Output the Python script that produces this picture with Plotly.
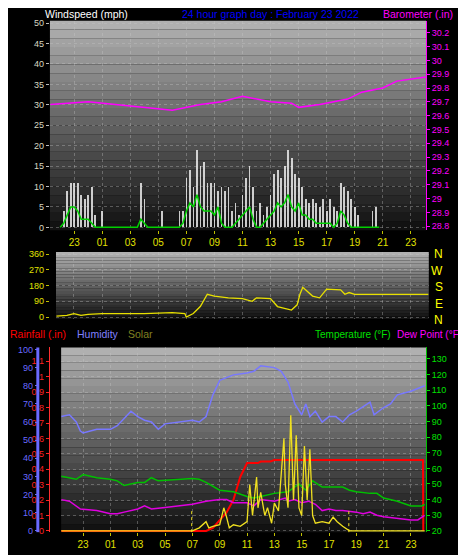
import plotly.graph_objects as go

# time in hours since midnight of previous day (23 -> 23:00 prev day, 47 -> 23:00 today)
hour_ticks = [23, 25, 27, 29, 31, 33, 35, 37, 39, 41, 43, 45, 47]
hour_labels = ['23', '01', '03', '05', '07', '09', '11', '13', '15', '17', '19', '21', '23']

# wind, 15 minute steps starting 22:00 prev day
wind_start = 22.0
gust = [0, 4, 9, 11, 11, 11, 8, 7, 8, 10, 3, 0, 4, 0, 0, 0,
        0, 0, 0, 0, 0, 0, 0, 11, 7, 0, 0, 0, 0, 4, 0, 0,
        0, 0, 4, 4, 12, 14, 10, 19, 15, 16, 11, 11, 11, 9, 10, 9,
        10, 4, 6, 3, 8, 12, 15, 10, 4, 6, 3, 5, 8, 13, 14, 12,
        15, 19, 17, 13, 12, 10, 7, 6, 7, 6, 5, 7, 4, 7, 5, 4,
        11, 10, 9, 7, 5, 3, 0, 0, 0, 4, 5, 0]
avg_wind = [0, 1, 3, 5, 5, 4, 2, 2, 2, 1, 0, 0, 0, 0, 0, 0,
            0, 0, 0, 0, 0, 0, 0, 2, 1, 0, 0, 0, 0, 0, 0, 0,
            0, 0, 0, 1, 4, 6, 5, 8, 5, 4, 4, 4, 3, 5, 1, 0,
            0, 0, 1, 2, 3, 4, 5, 2, 0, 0, 1, 2, 3, 4, 6, 5,
            6, 8, 5, 4, 6, 3, 3, 2, 2, 1, 1, 1, 1, 1, 0, 1,
            4, 3, 1, 0, 0, 0, 0, 0, 0, 0, 0, 0]
wind_t = [wind_start + 0.25 * i for i in range(len(gust))]

baro_t = [21.3, 24, 27, 29, 30, 32, 33.5, 35, 37, 38.5, 39, 40.5, 41.5, 42.5, 43.5, 45, 46, 47.5, 48.05]
baro = [29.68, 29.70, 29.67, 29.65, 29.64, 29.68, 29.70, 29.74, 29.70, 29.69, 29.66, 29.68, 29.70, 29.72, 29.77, 29.80, 29.85, 29.87, 29.88]

dir_t = [21.75, 22.5, 23, 23.5, 24, 25, 28, 30, 30.9, 31.0, 31.5, 32, 32.5, 33, 34, 35, 35.7, 36, 37, 37.5, 38, 38.5, 38.9, 39.1, 39.3, 40, 40.5, 41, 42, 42.3, 42.6, 43, 48.25]
wind_dir = [5, 10, 20, 10, 15, 20, 20, 25, 20, 0, 20, 60, 130, 120, 110, 105, 90, 110, 105, 60, 50, 40, 70, 130, 170, 120, 110, 160, 155, 130, 140, 130, 130]

hum_t = [21.4, 22, 22.5, 22.8, 23, 24, 25, 25.5, 26, 26.5, 27, 27.5, 28, 28.5, 29, 30, 31, 31.5, 32, 32.5, 33, 34, 35, 35.5, 36, 37, 37.5, 38, 38.5, 39, 39.3, 39.6, 40, 40.5, 41, 41.5, 42, 42.5, 43, 44, 44.3, 45, 45.5, 46, 47, 48]
humidity = [63, 64, 60, 55, 54, 56, 56, 58, 62, 66, 63, 61, 60, 56, 59, 60, 61, 60, 63, 75, 83, 86, 87, 88, 91, 90, 88, 82, 70, 64, 70, 63, 66, 60, 63, 63, 60, 64, 66, 71, 64, 68, 70, 75, 77, 80]

temp_t = [21.4, 22.5, 23, 24, 25, 25.5, 26, 27, 27.5, 28, 28.5, 30, 31, 31.5, 32, 33, 34, 35, 35.5, 36, 37, 38, 38.8, 39.3, 39.8, 40.5, 41, 42, 42.5, 43, 44, 44.5, 45, 46, 47, 47.8, 48]
temperature = [55, 53, 56, 54, 53, 52, 49, 51, 51, 54, 52, 53, 53.5, 53, 51, 46, 45, 42, 41, 42, 44, 45, 50, 46, 52, 48, 48, 48, 46, 45, 44, 44, 41, 39, 36, 36, 37]

dew_t = [21.4, 22, 22.8, 24, 25, 25.5, 26, 27, 27.5, 28, 29, 30, 31, 32, 33, 33.5, 34, 35, 35.5, 36, 37, 37.8, 38, 38.5, 39, 39.5, 40, 40.5, 41, 41.5, 42, 43, 43.5, 44, 44.5, 45, 46, 47, 47.5, 48]
dew_point = [40, 39, 34, 33, 31, 31, 32, 34, 36, 34, 35, 36, 37, 39, 40, 40, 38, 38, 36, 40, 39, 41, 39, 40, 38, 39, 37, 33, 34, 33, 33, 32, 31, 32, 30, 29, 28, 27, 27, 30]

rain_t = [21.4, 32.0, 32.5, 33.0, 33.5, 34.0, 34.5, 35.0, 35.8, 36.0, 36.7, 37.0, 47.88, 47.9]
rainfall = [0, 0, 0.02, 0.07, 0.12, 0.2, 0.35, 0.44, 0.44, 0.45, 0.45, 0.46, 0.46, 0]

solar_t = [21.4, 31.0, 31.5, 32, 32.2, 32.5, 33, 33.3, 33.5, 33.7, 34, 34.5, 35, 35.2, 35.4, 35.5, 35.7, 35.8, 36, 36.3, 36.5, 36.8, 37, 37.3, 37.5, 37.7, 37.8, 38, 38.2, 38.4, 38.6, 38.8, 39, 39.2, 39.4, 39.6, 39.8, 40, 40.5, 41, 41.3, 41.6, 42, 42.5, 48]
solar = [0, 0, 20, 60, 20, 30, 40, 150, 90, 20, 40, 30, 60, 300, 100, 200, 350, 150, 250, 100, 150, 50, 180, 130, 400, 600, 300, 150, 750, 200, 620, 150, 100, 550, 200, 530, 100, 50, 60, 50, 90, 60, 30, 0, 0]
sun_times = [30.95, 42.45]

FONT = 'Liberation Sans, Arial, sans-serif'
GRID = dict(showgrid=True, gridcolor='rgba(200,200,200,0.35)', griddash='dot', gridwidth=1)

fig = go.Figure()

# top panel
fig.add_trace(go.Bar(x=wind_t, y=gust, width=0.12, marker=dict(color='rgba(235,235,235,0.85)', line_width=0),
                     xaxis='x', yaxis='y'))
fig.add_trace(go.Scatter(x=wind_t, y=avg_wind, mode='lines', line=dict(color='#00d000', width=1.5),
                         xaxis='x', yaxis='y'))
fig.add_trace(go.Scatter(x=baro_t, y=baro, mode='lines', line=dict(color='#ff00ff', width=1.5),
                         xaxis='x', yaxis='y2'))
# middle panel
fig.add_trace(go.Scatter(x=dir_t, y=wind_dir, mode='lines', line=dict(color='#e8e000', width=1.3),
                         xaxis='x2', yaxis='y3'))
# bottom panel
fig.add_trace(go.Scatter(x=hum_t, y=humidity, mode='lines', line=dict(color='#7878ff', width=1.5),
                         xaxis='x3', yaxis='y5'))
fig.add_trace(go.Scatter(x=temp_t, y=temperature, mode='lines', line=dict(color='#00c000', width=1.5),
                         xaxis='x3', yaxis='y6'))
fig.add_trace(go.Scatter(x=dew_t, y=dew_point, mode='lines', line=dict(color='#e000e0', width=1.5),
                         xaxis='x3', yaxis='y6'))
fig.add_trace(go.Scatter(x=solar_t, y=solar, mode='lines', line=dict(color='#f0e020', width=1.3),
                         xaxis='x3', yaxis='y7'))
fig.add_trace(go.Scatter(x=rain_t, y=rainfall, mode='lines', line=dict(color='#ff0000', width=2),
                         xaxis='x3', yaxis='y4'))

shapes = []
# gray gradient backgrounds
for xr, yr in [('x', 'y'), ('x2', 'y3'), ('x3', 'y4')]:
    n = 24
    for i in range(n):
        g = int(15 + 165 * (i + 0.5) / n)
        shapes.append(dict(type='rect', xref=xr + ' domain', yref=yr + ' domain', x0=0, x1=1,
                           y0=i / n, y1=(i + 1) / n, fillcolor=f'rgb({g},{g},{g})', line_width=0, layer='below'))
for t in sun_times:
    shapes.append(dict(type='line', xref='x3', yref='y4 domain', x0=t, x1=t, y0=0, y1=0.12,
                       line=dict(color='#f0e020', width=1, dash='dot')))
shapes.append(dict(type='line', xref='paper', yref='y5 domain', x0=0.064, x1=0.064, y0=0, y1=1,
                   line=dict(color='#6a6aff', width=3)))

tick_x = dict(tickmode='array', tickvals=hour_ticks, ticktext=hour_labels, ticks='outside',
              tickcolor='#c0c000', ticklen=3, tickfont=dict(color='#e0e000', size=10), zeroline=False, **GRID)
fig.update_layout(
    width=466, height=555, autosize=False, showlegend=False,
    margin=dict(l=0, r=0, t=0, b=0), paper_bgcolor='black', plot_bgcolor='black',
    font=dict(family=FONT, size=9), bargap=0, shapes=shapes,
    xaxis=dict(domain=[0.090, 0.897], range=[21.27, 48.08], anchor='y', **tick_x),
    yaxis=dict(domain=[0.6, 0.982], range=[-0.7, 50.55], tickvals=list(range(0, 51, 5)),
               tickfont=dict(color='#d8d8c0', size=9), ticks='outside', ticklen=3, tickcolor='#bbb',
               zeroline=False, **GRID),
    yaxis2=dict(overlaying='y', side='right', anchor='x', range=[28.771, 30.286],
                tickvals=[round(28.8 + 0.1 * i, 1) for i in range(15)], tickfont=dict(color='#ff00ff', size=9),
                ticks='outside', ticklen=3, tickcolor='#ff00ff', showgrid=False, zeroline=False,
                showline=True, linecolor='#ff00ff'),
    xaxis2=dict(domain=[0.103, 0.903], range=[21.72, 48.28], anchor='y3', tickvals=hour_ticks,
                showticklabels=False, zeroline=False, **GRID),
    yaxis3=dict(domain=[0.438, 0.56], range=[-11, 371], tickvals=[0, 90, 180, 270, 360],
                tickfont=dict(color='#e0e000', size=9), ticks='outside', ticklen=3, tickcolor='#c0c000',
                zeroline=False, **GRID),
    xaxis3=dict(domain=[0.114, 0.897], range=[21.39, 48.1], anchor='y4', **tick_x),
    yaxis4=dict(domain=[0.049, 0.386], range=[-0.008, 1.19], tickvals=[round(0.1 * i, 1) for i in range(12)],
                tickfont=dict(color='#ff2020', size=9), ticks='outside', ticklen=3, tickcolor='#ff2020',
                showline=True, linecolor='#ff3030', zeroline=False, **GRID),
    yaxis5=dict(overlaying='y4', anchor='free', position=0.064, range=[-0.7, 101.1],
                tickvals=list(range(0, 101, 10)), tickfont=dict(color='#6a6aff', size=9),
                ticks='outside', ticklen=3, tickcolor='#6a6aff', showgrid=False, zeroline=False),
    yaxis6=dict(overlaying='y4', side='right', anchor='x3', range=[19.2, 137.3],
                tickvals=list(range(20, 131, 10)), tickfont=dict(color='#00e000', size=9),
                ticks='outside', ticklen=3, tickcolor='#00e000', showline=True, linecolor='#00c000',
                showgrid=False, zeroline=False),
    yaxis7=dict(overlaying='y4', range=[-8, 1190], visible=False),
)

texts = [
    (0.075, 0.995, 'Windspeed (mph)', '#ffffff', 10.5),
    (0.37, 0.995, '24 hour graph day : February 23 2022', '#0000ff', 10.5),
    (0.80, 0.995, 'Barometer (.in)', '#ff00ff', 10.5),
    (0.0, 0.41, 'Rainfall (.in)', '#ff0000', 10.5),
    (0.143, 0.41, 'Humidity', '#8080ff', 10.5),
    (0.253, 0.41, 'Solar', '#808020', 10.5),
    (0.655, 0.41, 'Temperature (°F)', '#00e000', 10),
    (0.83, 0.41, 'Dew Point (°F)', '#ff00ff', 10),
]
for x, y, s, c, sz in texts:
    fig.add_annotation(x=x, y=y, xref='paper', yref='paper', text=s, showarrow=False,
                       xanchor='left', yanchor='middle', font=dict(color=c, size=sz, family=FONT))
for i, s in enumerate(['N', 'W', 'S', 'E', 'N']):
    fig.add_annotation(x=0.938, y=0.556 - i * 0.03, xref='paper', yref='paper', text=s, showarrow=False,
                       font=dict(color='#ffff00', size=12, family=FONT))

fig.write_html('out.html')
